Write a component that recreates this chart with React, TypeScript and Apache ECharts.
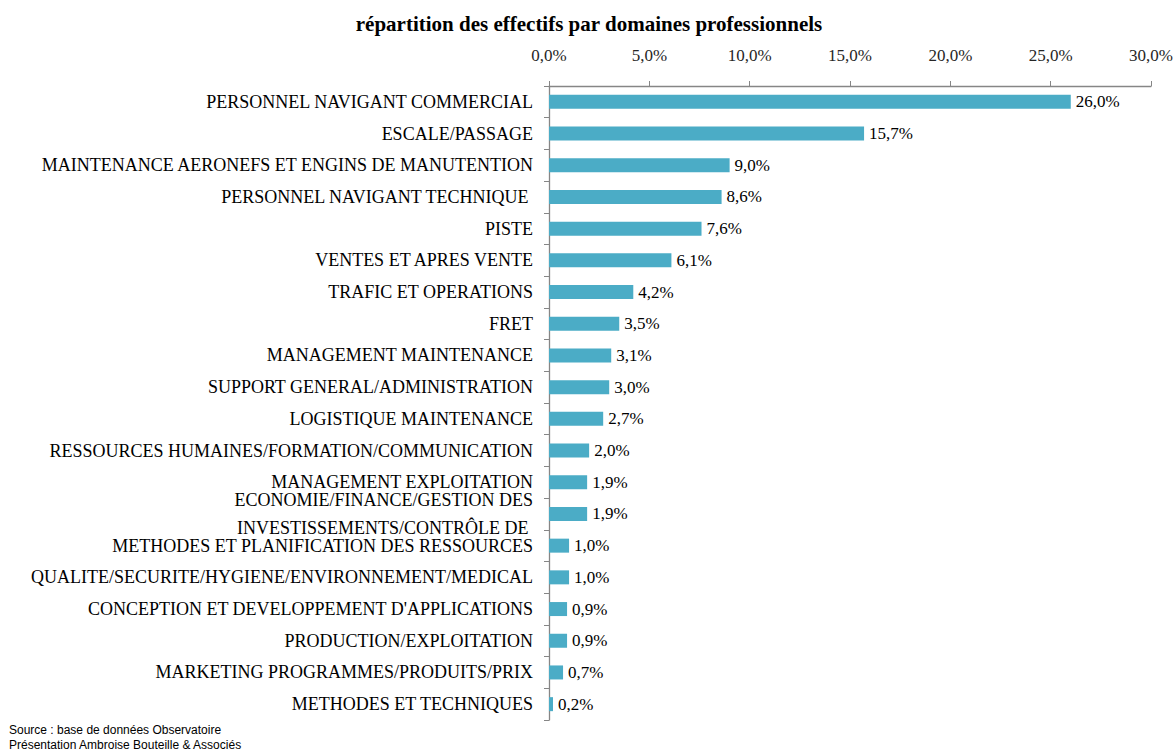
import React, { useEffect, useRef } from "react";
import * as echarts from "echarts";

const categories = [
  "PERSONNEL NAVIGANT COMMERCIAL",
  "ESCALE/PASSAGE",
  "MAINTENANCE AERONEFS ET ENGINS DE MANUTENTION",
  "PERSONNEL NAVIGANT TECHNIQUE ",
  "PISTE",
  "VENTES ET APRES VENTE",
  "TRAFIC ET OPERATIONS",
  "FRET",
  "MANAGEMENT MAINTENANCE",
  "SUPPORT GENERAL/ADMINISTRATION",
  "LOGISTIQUE MAINTENANCE",
  "RESSOURCES HUMAINES/FORMATION/COMMUNICATION",
  "MANAGEMENT EXPLOITATION",
  "ECONOMIE/FINANCE/GESTION DES\nINVESTISSEMENTS/CONTRÔLE DE ",
  "METHODES ET PLANIFICATION DES RESSOURCES",
  "QUALITE/SECURITE/HYGIENE/ENVIRONNEMENT/MEDICAL",
  "CONCEPTION ET DEVELOPPEMENT D'APPLICATIONS",
  "PRODUCTION/EXPLOITATION",
  "MARKETING PROGRAMMES/PRODUITS/PRIX",
  "METHODES ET TECHNIQUES",
];

const values = [26.0, 15.7, 9.0, 8.6, 7.6, 6.1, 4.2, 3.5, 3.1, 3.0, 2.7, 2.0, 1.9, 1.9, 1.0, 1.0, 0.9, 0.9, 0.7, 0.2];

const title = "répartition des effectifs par domaines professionnels";
const sourceLines = ["Source : base de données Observatoire", "Présentation Ambroise Bouteille & Associés"];

const fmt = (v: number) => v.toFixed(1).replace(".", ",") + "%";
const serif = "'Liberation Serif', 'Times New Roman', serif";

export default function App() {
  const ref = useRef<HTMLDivElement>(null);
  useEffect(() => {
    if (!ref.current) return;
    const chart = echarts.init(ref.current, undefined, { renderer: "svg" });
    chart.setOption({
      animation: false,
      backgroundColor: "#ffffff",
      title: {
        text: title,
        left: 584,
        textAlign: "center",
        top: 8,
        textStyle: { fontFamily: serif, fontWeight: "bold", fontSize: 21, color: "#000" },
      },
      grid: { left: 549, right: 24, top: 86, bottom: 32, containLabel: false },
      xAxis: {
        type: "value",
        position: "top",
        min: 0,
        max: 30,
        interval: 5,
        axisLine: { show: true, lineStyle: { color: "#868686", width: 1.3 } },
        axisTick: { show: true, length: 5, lineStyle: { color: "#868686" } },
        splitLine: { show: false },
        axisLabel: {
          formatter: (v: number) => fmt(v),
          fontFamily: serif,
          fontSize: 17,
          color: "#262626",
          margin: 22,
        },
      },
      yAxis: {
        type: "category",
        inverse: true,
        data: categories,
        axisLine: { show: true, lineStyle: { color: "#868686", width: 1.3 } },
        axisTick: { show: true, length: 5, lineStyle: { color: "#868686" } },
        axisLabel: {
          fontFamily: serif,
          fontSize: 18,
          color: "#000",
          margin: 16,
          lineHeight: 28,
          interval: 0,
        },
      },
      series: [
        {
          type: "bar",
          data: values,
          barWidth: 14,
          itemStyle: { color: "#4BACC6" },
          label: {
            show: true,
            position: "right",
            distance: 5,
            formatter: (p: any) => fmt(p.value),
            fontFamily: serif,
            fontSize: 17,
            color: "#000",
          },
        },
      ],
      graphic: sourceLines.map((t, i) => ({
        type: "text",
        left: 9,
        top: 724 + i * 15,
        style: { text: t, fontFamily: "'Liberation Sans', Arial, sans-serif", fontSize: 12, fill: "#000" },
      })),
    });
    return () => chart.dispose();
  }, []);
  return <div ref={ref} style={{ width: 1176, height: 752, position: "absolute", left: 0, top: 0 }} />;
}
